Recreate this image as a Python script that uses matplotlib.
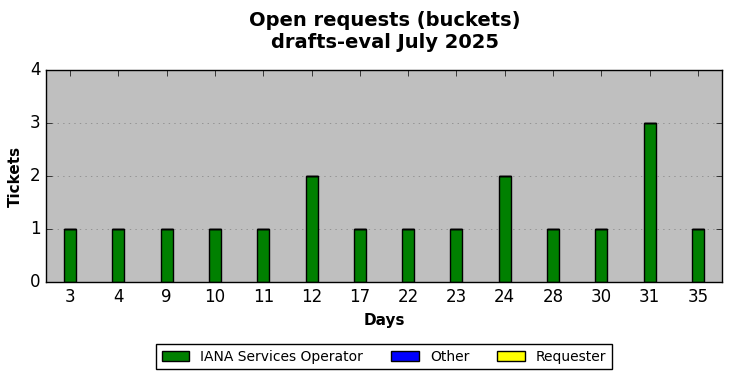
import matplotlib
matplotlib.use("Agg")
import matplotlib.pyplot as plt
import numpy as np

plt.style.use("classic")

days = ["3", "4", "9", "10", "11", "12", "17", "22", "23", "24", "28", "30", "31", "35"]
iana = [1, 1, 1, 1, 1, 2, 1, 1, 1, 2, 1, 1, 3, 1]
other = [0] * 14
requester = [0] * 14

fig = plt.figure(figsize=(7.32, 3.78), dpi=100, facecolor="white")
ax = fig.add_axes([46 / 732, 1 - 282 / 378, 676 / 732, 212 / 378])
ax.set_facecolor("#bfbfbf")

x = np.arange(len(days))
w = 0.25
ax.bar(x, iana, w, color="green", edgecolor="black", label="IANA Services Operator", align="center")
ax.bar(x, other, w, bottom=iana, color="blue", edgecolor="black", label="Other", align="center")
b2 = np.array(iana) + np.array(other)
ax.bar(x, requester, w, bottom=b2, color="yellow", edgecolor="black", label="Requester", align="center")

ax.set_xlim(-0.5, len(days) - 0.5)
ax.set_ylim(0, 4)
ax.set_xticks(x)
ax.set_xticklabels(days)
ax.set_yticks([0, 1, 2, 3, 4])
ax.yaxis.grid(True, linestyle=":", color="gray")
ax.xaxis.grid(False)
ax.set_axisbelow(True)
ax.tick_params(labelsize=12)

ax.set_xlabel("Days", fontsize=11, fontweight="bold")
ax.set_ylabel("Tickets", fontsize=11, fontweight="bold")
fig.suptitle("Open requests (buckets)\ndrafts-eval July 2025", fontsize=14, fontweight="bold",
             x=385 / 732, y=0.972)

leg = fig.legend(loc="lower center", bbox_to_anchor=(384 / 732, 0.005), ncol=3, fontsize=10,
                 frameon=True, fancybox=False, handlelength=2.0, columnspacing=2.0)
leg.get_frame().set_edgecolor("black")

fig.savefig("out.png", dpi=100, facecolor="white")
